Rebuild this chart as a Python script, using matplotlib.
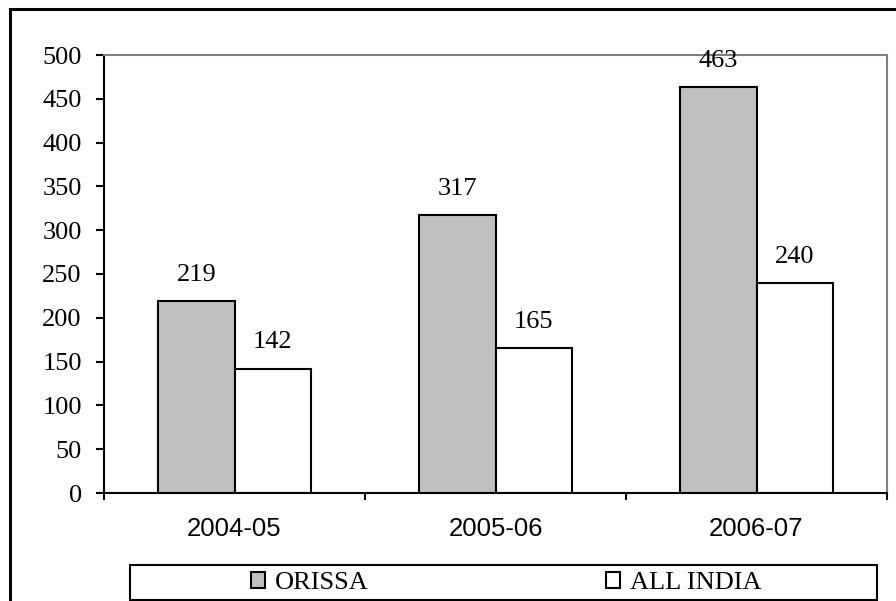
import numpy as np
import matplotlib.pyplot as plt
from matplotlib.patches import Rectangle, Patch

years = ['2004-05', '2005-06', '2006-07']
orissa = [219, 317, 463]
all_india = [142, 165, 240]

serif = 'Liberation Serif'
sans = 'Liberation Sans'

fig = plt.figure(figsize=(8.96, 6.01), dpi=100)
ax = fig.add_axes([104/896, 1-493/601, (887-104)/896, (493-55)/601])

x = np.arange(len(years))
w = 0.292
b1 = ax.bar(x - w/2, orissa, w, color='#c0c0c0', edgecolor='black', linewidth=1.5)
b2 = ax.bar(x + w/2, all_india, w, color='white', edgecolor='black', linewidth=1.5)

for bars, vals in [(b1, orissa), (b2, all_india)]:
    for r, v in zip(bars, vals):
        ax.annotate(str(v), (r.get_x() + r.get_width()/2, v), xytext=(0, 14.5),
                    textcoords='offset points', ha='center', va='baseline',
                    fontsize=19, family=serif)

ax.set_xlim(-0.5, 2.5)
ax.set_ylim(0, 500)
ax.set_yticks(np.arange(0, 501, 50))
ax.set_yticklabels([str(t) for t in range(0, 501, 50)], family=serif, fontsize=19)
# ticks on the category boundaries, labels in the middle
ax.set_xticks([-0.5, 0.5, 1.5, 2.5])
ax.set_xticklabels([])
ax.set_xticks(x, minor=True)
ax.set_xticklabels(years, minor=True, family=sans, fontsize=18.5)
ax.tick_params(axis='x', which='minor', length=0, pad=17)
ax.tick_params(axis='x', which='major', length=5, width=1.5, direction='out')
ax.tick_params(axis='y', length=6, width=1.5, direction='out', pad=10)

ax.spines['left'].set_linewidth(1.5)
ax.spines['bottom'].set_linewidth(1.5)
ax.spines['top'].set_color('#808080')
ax.spines['right'].set_color('#808080')
ax.spines['top'].set_linewidth(1.5)
ax.spines['right'].set_linewidth(1.5)

# outer chart border (right and bottom edges fall outside the image)
fig.patches.append(Rectangle((10/896, -0.05), 1.0, 1.05 - 9/601,
                             transform=fig.transFigure, fill=False,
                             edgecolor='black', linewidth=2.2))
# legend box
fig.patches.append(Rectangle((130/896, 1 - 600/601), (877-130)/896, 35/601,
                             transform=fig.transFigure, fill=False,
                             edgecolor='black', linewidth=1.5))

handles = [Patch(facecolor='#c0c0c0', edgecolor='black', linewidth=1.5, label='ORISSA'),
           Patch(facecolor='white', edgecolor='black', linewidth=1.5, label='ALL INDIA')]
fig.legend(handles=handles, loc='center', bbox_to_anchor=(506/896, 1 - 583/601),
           ncol=2, frameon=False, prop={'family': serif, 'size': 19},
           handlelength=0.55, handleheight=0.55, handletextpad=0.35, columnspacing=9.0)

fig.savefig('out.png', dpi=100)
